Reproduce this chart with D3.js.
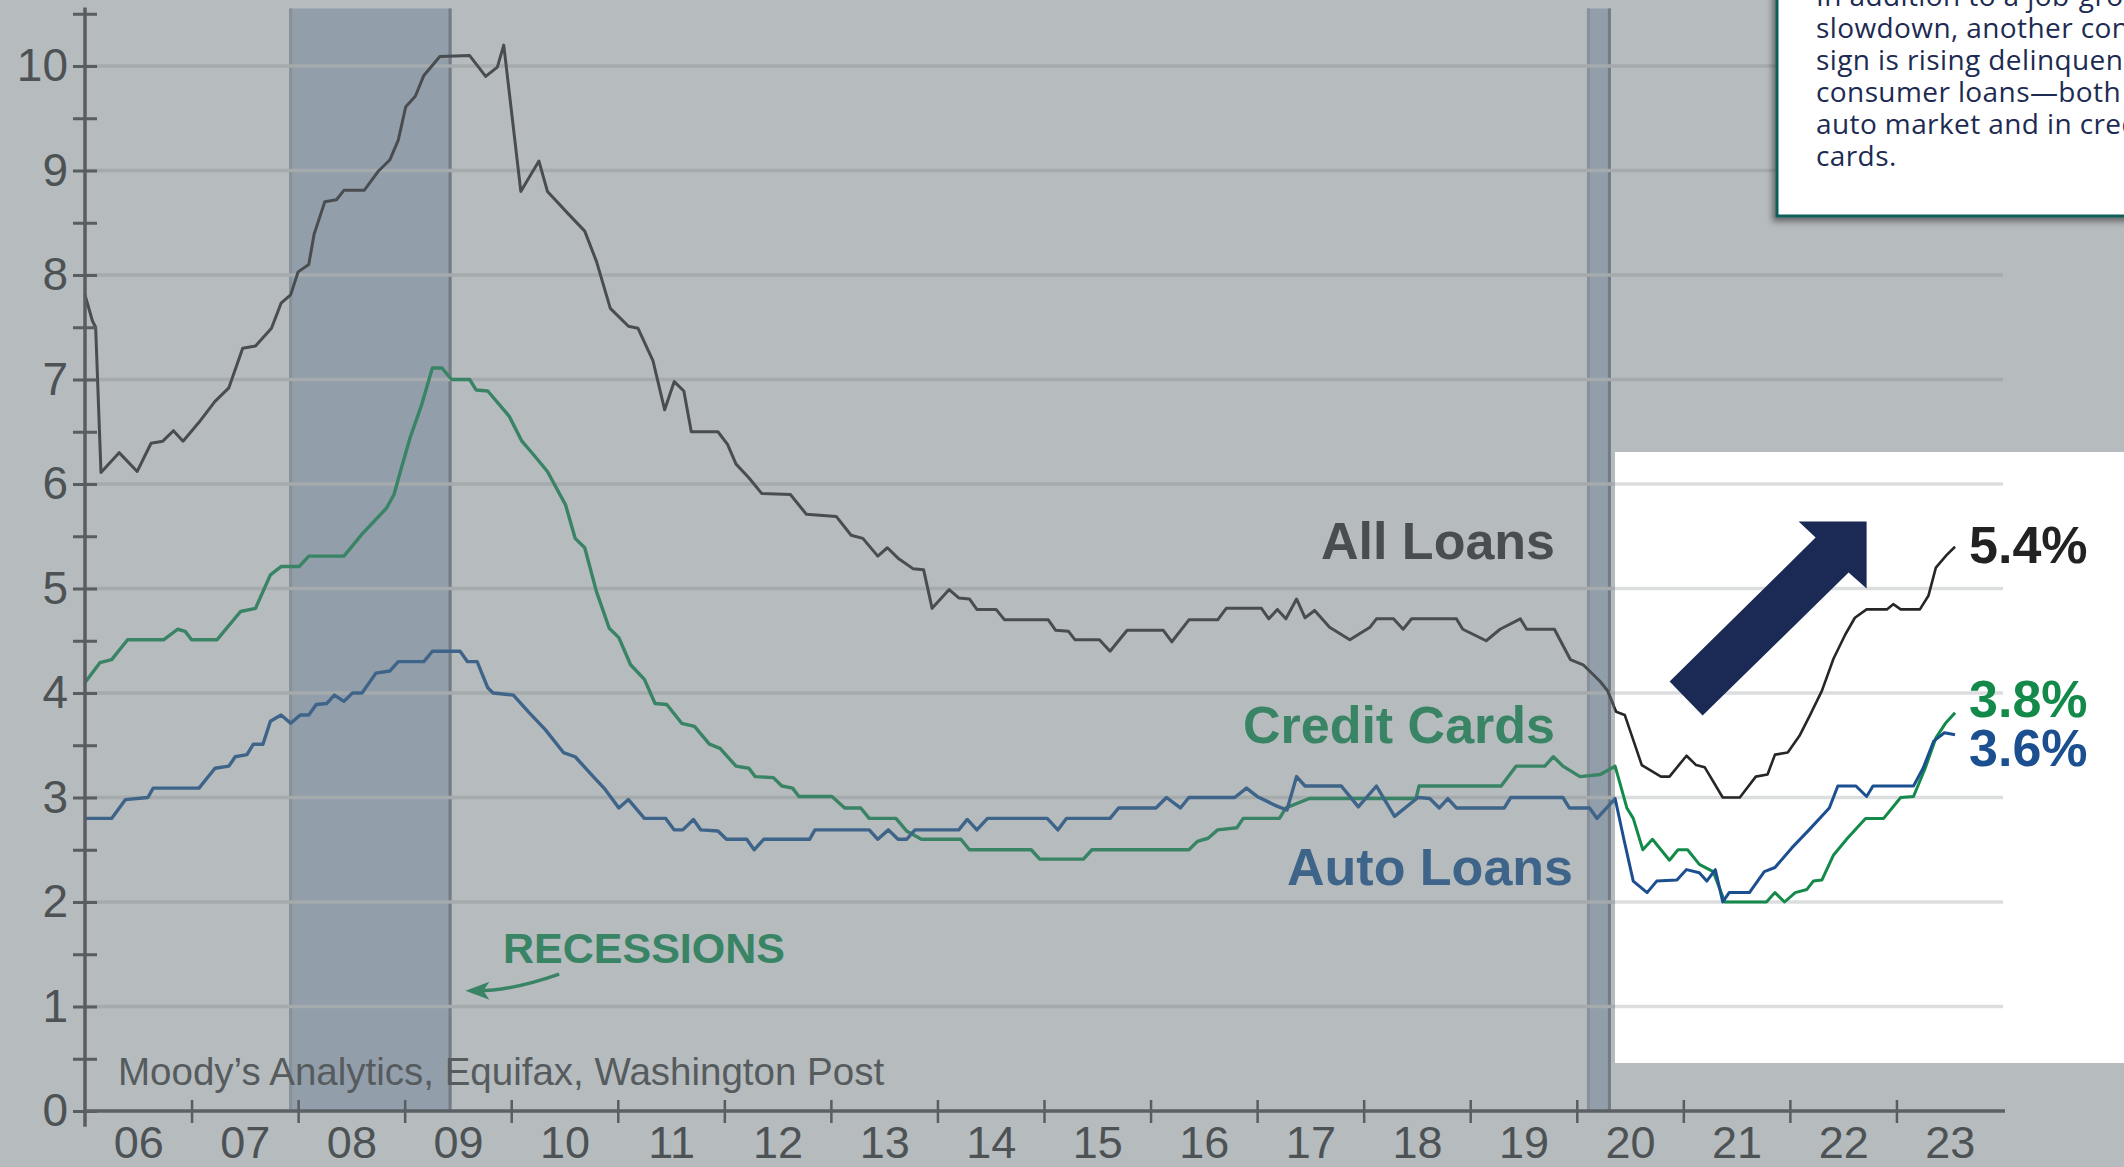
<!DOCTYPE html>
<html>
<head>
<meta charset="utf-8">
<script src="https://cdn.jsdelivr.net/npm/d3@7"></script>
<style>
  html, body { margin: 0; padding: 0; background: #b6bbbe; overflow: hidden; }
  svg { display: block; }
</style>
</head>
<body>
<div id="chart"></div>
<script>
// Delinquency rates (%); dates are decimal years
var allLoansDates = [2006.00, 2006.07, 2006.10, 2006.15, 2006.32, 2006.49, 2006.62, 2006.73, 2006.83, 2006.92,
  2007.07, 2007.22, 2007.35, 2007.48, 2007.60, 2007.75, 2007.84, 2007.93, 2008.00, 2008.10, 2008.15, 2008.25,
  2008.36, 2008.43, 2008.62, 2008.75, 2008.86, 2008.94, 2009.01, 2009.10, 2009.18, 2009.33, 2009.61, 2009.76,
  2009.87, 2009.93, 2010.09, 2010.26, 2010.34, 2010.54, 2010.69, 2010.80, 2010.93, 2011.10, 2011.19, 2011.33,
  2011.44, 2011.53, 2011.62, 2011.69, 2011.94, 2012.03, 2012.11, 2012.23, 2012.35, 2012.62, 2012.77, 2013.05,
  2013.19, 2013.30, 2013.44, 2013.53, 2013.63, 2013.77, 2013.87, 2013.95, 2014.11, 2014.20, 2014.30, 2014.37,
  2014.55, 2014.63, 2015.04, 2015.11, 2015.23, 2015.29, 2015.52, 2015.62, 2015.78, 2016.12, 2016.20, 2016.36,
  2016.63, 2016.71, 2017.04, 2017.11, 2017.19, 2017.27, 2017.37, 2017.45, 2017.54, 2017.68, 2017.87, 2018.06,
  2018.12, 2018.28, 2018.37, 2018.45, 2018.87, 2018.93, 2019.15, 2019.28, 2019.47, 2019.53, 2019.79, 2019.94,
  2020.06, 2020.22, 2020.29, 2020.37, 2020.45, 2020.61, 2020.79, 2020.87, 2021.03, 2021.12, 2021.20, 2021.37,
  2021.53, 2021.68, 2021.79, 2021.86, 2021.98, 2022.09, 2022.19, 2022.30, 2022.41, 2022.52, 2022.61, 2022.72,
  2022.91, 2022.97, 2023.04, 2023.22, 2023.30, 2023.37, 2023.47, 2023.55];
var allLoansValues = [7.81, 7.56, 7.50, 6.11, 6.30, 6.12, 6.39, 6.41, 6.51, 6.41,
  6.59, 6.79, 6.92, 7.30, 7.32, 7.49, 7.73, 7.81, 8.03, 8.10, 8.39, 8.70,
  8.72, 8.81, 8.81, 8.99, 9.10, 9.29, 9.61, 9.71, 9.91, 10.09, 10.10, 9.90,
  9.99, 10.20, 8.80, 9.09, 8.80, 8.58, 8.42, 8.13, 7.68, 7.51, 7.49, 7.18,
  6.71, 6.98, 6.89, 6.50, 6.50, 6.38, 6.19, 6.06, 5.91, 5.90, 5.71, 5.69,
  5.51, 5.48, 5.31, 5.39, 5.29, 5.19, 5.18, 4.81, 4.99, 4.91, 4.90, 4.80,
  4.80, 4.70, 4.70, 4.60, 4.59, 4.51, 4.51, 4.40, 4.60, 4.60, 4.49, 4.70,
  4.70, 4.81, 4.81, 4.71, 4.80, 4.71, 4.90, 4.72, 4.79, 4.63, 4.51, 4.63,
  4.71, 4.71, 4.61, 4.71, 4.71, 4.61, 4.50, 4.61, 4.71, 4.61, 4.61, 4.32,
  4.27, 4.11, 4.02, 3.82, 3.79, 3.31, 3.20, 3.20, 3.40, 3.31, 3.29, 3.00,
  3.00, 3.20, 3.22, 3.41, 3.43, 3.59, 3.79, 4.02, 4.33, 4.56, 4.72, 4.80,
  4.80, 4.85, 4.80, 4.80, 4.93, 5.20, 5.32, 5.40];

var creditDates = [2006.00, 2006.14, 2006.25, 2006.40, 2006.74, 2006.87, 2006.94, 2007.00, 2007.24, 2007.46,
  2007.60, 2007.74, 2007.84, 2008.01, 2008.10, 2008.43, 2008.60, 2008.83, 2008.90, 2008.96, 2009.05, 2009.16,
  2009.26, 2009.35, 2009.44, 2009.61, 2009.67, 2009.78, 2009.98, 2010.10, 2010.21, 2010.34, 2010.51, 2010.60,
  2010.69, 2010.80, 2010.92, 2011.01, 2011.12, 2011.25, 2011.35, 2011.46, 2011.60, 2011.72, 2011.86, 2011.96,
  2012.11, 2012.23, 2012.29, 2012.46, 2012.54, 2012.64, 2012.70, 2013.01, 2013.13, 2013.28, 2013.36, 2013.61,
  2013.71, 2013.85, 2014.22, 2014.30, 2014.88, 2014.96, 2015.37, 2015.45, 2016.36, 2016.44, 2016.54, 2016.63,
  2016.81, 2016.87, 2017.21, 2017.27, 2017.49, 2018.49, 2018.52, 2019.29, 2019.43, 2019.70, 2019.78, 2019.87,
  2020.03, 2020.22, 2020.36, 2020.47, 2020.53, 2020.62, 2020.71, 2020.87, 2020.95, 2021.04, 2021.15, 2021.28,
  2021.39, 2021.78, 2021.86, 2021.95, 2022.05, 2022.16, 2022.22, 2022.30, 2022.41, 2022.54, 2022.71, 2022.88,
  2023.04, 2023.16, 2023.27, 2023.37, 2023.46, 2023.55];
var creditValues = [4.10, 4.29, 4.32, 4.51, 4.51, 4.61, 4.59, 4.51, 4.51, 4.78,
  4.81, 5.13, 5.21, 5.21, 5.31, 5.31, 5.52, 5.77, 5.90, 6.12, 6.44, 6.76,
  7.11, 7.11, 7.00, 7.00, 6.90, 6.89, 6.65, 6.41, 6.28, 6.12, 5.80, 5.48,
  5.39, 4.97, 4.62, 4.53, 4.27, 4.13, 3.90, 3.89, 3.71, 3.68, 3.51, 3.47,
  3.30, 3.28, 3.20, 3.19, 3.11, 3.09, 3.01, 3.01, 2.90, 2.90, 2.80, 2.80,
  2.68, 2.60, 2.60, 2.50, 2.50, 2.41, 2.41, 2.50, 2.50, 2.58, 2.61, 2.69,
  2.71, 2.80, 2.80, 2.90, 2.99, 2.99, 3.11, 3.11, 3.30, 3.30, 3.39, 3.30,
  3.20, 3.22, 3.30, 2.90, 2.80, 2.50, 2.60, 2.40, 2.50, 2.50, 2.36, 2.29,
  2.00, 2.00, 2.09, 2.00, 2.09, 2.12, 2.20, 2.21, 2.45, 2.61, 2.80, 2.80,
  3.00, 3.01, 3.28, 3.57, 3.71, 3.81];

var autoDates = [2006.00, 2006.25, 2006.38, 2006.59, 2006.64, 2007.07, 2007.22, 2007.35, 2007.41, 2007.52,
  2007.58, 2007.67, 2007.74, 2007.84, 2007.93, 2008.02, 2008.10, 2008.17, 2008.27, 2008.34, 2008.43, 2008.51,
  2008.60, 2008.73, 2008.86, 2008.94, 2009.18, 2009.26, 2009.52, 2009.59, 2009.68, 2009.78, 2009.83, 2010.02,
  2010.17, 2010.32, 2010.49, 2010.60, 2010.77, 2010.88, 2011.01, 2011.10, 2011.25, 2011.45, 2011.53, 2011.61,
  2011.71, 2011.78, 2011.94, 2012.02, 2012.21, 2012.28, 2012.37, 2012.80, 2012.85, 2013.36, 2013.44, 2013.54,
  2013.63, 2013.71, 2013.79, 2014.20, 2014.28, 2014.37, 2014.47, 2015.03, 2015.13, 2015.21, 2015.62, 2015.70,
  2016.05, 2016.15, 2016.28, 2016.36, 2016.79, 2016.90, 2017.00, 2017.18, 2017.28, 2017.37, 2017.45, 2017.79,
  2017.95, 2018.12, 2018.29, 2018.51, 2018.62, 2018.71, 2018.79, 2018.87, 2019.32, 2019.38, 2019.87, 2019.93,
  2020.12, 2020.19, 2020.36, 2020.44, 2020.53, 2020.66, 2020.75, 2020.94, 2021.03, 2021.15, 2021.22, 2021.30,
  2021.37, 2021.43, 2021.62, 2021.76, 2021.86, 2022.02, 2022.18, 2022.37, 2022.45, 2022.62, 2022.72, 2022.78,
  2023.16, 2023.25, 2023.35, 2023.45, 2023.55];
var autoValues = [2.80, 2.80, 2.98, 3.00, 3.09, 3.09, 3.28, 3.30, 3.39, 3.41,
  3.51, 3.51, 3.73, 3.79, 3.71, 3.79, 3.79, 3.89, 3.90, 3.98, 3.92, 4.00,
  4.00, 4.19, 4.21, 4.30, 4.30, 4.40, 4.40, 4.30, 4.30, 4.05, 4.00, 3.98,
  3.81, 3.65, 3.43, 3.39, 3.20, 3.08, 2.90, 2.98, 2.80, 2.80, 2.69, 2.69,
  2.79, 2.69, 2.68, 2.60, 2.60, 2.50, 2.60, 2.60, 2.69, 2.69, 2.60, 2.69,
  2.60, 2.60, 2.69, 2.69, 2.79, 2.69, 2.80, 2.80, 2.69, 2.80, 2.80, 2.90,
  2.90, 3.00, 2.90, 3.00, 3.00, 3.09, 3.01, 2.92, 2.88, 3.20, 3.11, 3.11,
  2.91, 3.11, 2.82, 3.00, 2.99, 2.90, 2.99, 2.90, 2.90, 3.00, 3.00, 2.90,
  2.90, 2.80, 2.99, 2.61, 2.20, 2.09, 2.20, 2.21, 2.31, 2.28, 2.20, 2.31,
  2.00, 2.09, 2.09, 2.29, 2.33, 2.52, 2.69, 2.90, 3.11, 3.11, 3.01, 3.11,
  3.11, 3.28, 3.54, 3.62, 3.60];

var recessionStarts = [2007.92, 2020.10];
var recessionEnds = [2009.44, 2020.32];
var yearTicks = d3.range(2007, 2024);
var yearLabels = ["06", "07", "08", "09", "10", "11", "12", "13", "14", "15", "16", "17", "18", "19", "20", "21", "22", "23"];
var endLabels = ["5.4%", "3.8%", "3.6%"];
var noteLines = ["In addition to a job-growth", "slowdown, another concerning", "sign is rising delinquencies in",
  "consumer loans\u2014both in the", "auto market and in credit", "cards."];

var width = 2124;
var height = 1167;
var box = { x: 1615, y: 452, w: 520, h: 611 };   // highlighted white area

var svg = d3.select("#chart")
    .append("svg")
    .attr("width", width)
    .attr("height", height);

var x = d3.scaleLinear().domain([2006, 2024]).range([85, 2003]);
var y = d3.scaleLinear().domain([0, 10]).range([1111, 66]);

var defs = svg.append("defs");
defs.append("clipPath").attr("id", "boxClip")
  .append("rect").attr("x", box.x).attr("y", box.y).attr("width", box.w).attr("height", box.h);
var shadow = defs.append("filter").attr("id", "shadow").attr("x", "-20%").attr("y", "-20%").attr("width", "140%").attr("height", "140%");
shadow.append("feDropShadow").attr("dx", -3).attr("dy", 4).attr("stdDeviation", 3)
  .attr("flood-color", "#000").attr("flood-opacity", 0.45);

// background
svg.append("rect").attr("width", width).attr("height", height).attr("fill", "#b6bbbe");

// recession bands
svg.selectAll(".band")
  .data(recessionStarts)
  .enter().append("rect")
  .attr("x", function(d) { return x(d); })
  .attr("y", y(10.55))
  .attr("width", function(d, i) { return x(recessionEnds[i]) - x(d); })
  .attr("height", y(0) - y(10.55))
  .attr("fill", "#939eab");
svg.selectAll(".bandEdgeL")
  .data(recessionStarts)
  .enter().append("line")
  .attr("x1", function(d) { return x(d) + 1; }).attr("x2", function(d) { return x(d) + 1; })
  .attr("y1", y(10.55)).attr("y2", y(0))
  .attr("stroke", "#889099").attr("stroke-width", 3);
svg.selectAll(".bandEdgeR")
  .data(recessionEnds)
  .enter().append("line")
  .attr("x1", function(d) { return x(d) - 1.5; }).attr("x2", function(d) { return x(d) - 1.5; })
  .attr("y1", y(10.55)).attr("y2", y(0))
  .attr("stroke", "#737b84").attr("stroke-width", 3);

var gridValues = d3.range(1, 11);

// gridlines (grey area)
svg.selectAll(".grid")
  .data(gridValues)
  .enter().append("line")
  .attr("x1", x(2006)).attr("x2", x(2024))
  .attr("y1", function(d) { return y(d); }).attr("y2", function(d) { return y(d); })
  .attr("stroke", "#a5aaad").attr("stroke-width", 3.5);

var line = d3.line()
  .x(function(d) { return x(d[0]); })
  .y(function(d) { return y(d[1]); });

var series = [
  { dates: allLoansDates, values: allLoansValues, muted: "#4a4d50", bright: "#262626", w: 3 },
  { dates: creditDates, values: creditValues, muted: "#3a8466", bright: "#138a4a", w: 3.4 },
  { dates: autoDates, values: autoValues, muted: "#3e6589", bright: "#1b4f8f", w: 3.4 }
];

// lines in the grey area
svg.selectAll(".mutedLine")
  .data(series)
  .enter().append("path")
  .attr("d", function(d) { return line(d3.zip(d.dates, d.values)); })
  .attr("fill", "none")
  .attr("stroke", function(d) { return d.muted; })
  .attr("stroke-width", function(d) { return d.w; })
  .attr("stroke-linejoin", "round");

// highlighted white area
svg.append("rect")
  .attr("x", box.x).attr("y", box.y).attr("width", box.w).attr("height", box.h)
  .attr("fill", "#ffffff");

var hi = svg.append("g").attr("clip-path", "url(#boxClip)");
hi.selectAll(".gridHi")
  .data(gridValues)
  .enter().append("line")
  .attr("x1", x(2006)).attr("x2", x(2024))
  .attr("y1", function(d) { return y(d); }).attr("y2", function(d) { return y(d); })
  .attr("stroke", "#dcdddf").attr("stroke-width", 3.5);
hi.selectAll(".brightLine")
  .data(series)
  .enter().append("path")
  .attr("d", function(d) { return line(d3.zip(d.dates, d.values)); })
  .attr("fill", "none")
  .attr("stroke", function(d) { return d.bright; })
  .attr("stroke-width", function(d) { return d.w - 0.4; })
  .attr("stroke-linejoin", "round");

// y axis
var yAxis = svg.append("g")
  .attr("transform", "translate(" + x(2006) + ",0)")
  .call(d3.axisLeft(y)
    .tickValues(d3.range(0, 10.51, 0.5))
    .tickSizeInner(12).tickSizeOuter(0).tickPadding(5)
    .tickFormat(function(d) { return Number.isInteger(d) ? d : ""; }));
yAxis.select(".domain").remove();
yAxis.selectAll(".tick line").attr("x1", -12).attr("x2", 12).attr("stroke", "#585d60").attr("stroke-width", 3);
yAxis.selectAll(".tick text")
  .attr("fill", "#4d5255")
  .style("font-family", "'Liberation Sans', Arial, sans-serif")
  .style("font-size", "46px");
yAxis.append("line")
  .attr("x1", 0).attr("x2", 0).attr("y1", y(10.56)).attr("y2", y(-0.15))
  .attr("stroke", "#585d60").attr("stroke-width", 3.5);

// x axis
var xAxis = svg.append("g")
  .attr("transform", "translate(0," + y(0) + ")")
  .call(d3.axisBottom(x).tickValues(yearTicks).tickSizeOuter(0).tickFormat(""));
xAxis.select(".domain").remove();
xAxis.selectAll(".tick line").attr("y1", -11).attr("y2", 12).attr("stroke", "#585d60").attr("stroke-width", 2.5);
xAxis.append("line")
  .attr("x1", x(2006)).attr("x2", x(2024) + 2).attr("y1", 0).attr("y2", 0)
  .attr("stroke", "#5b6064").attr("stroke-width", 3.5);

var xLabels = svg.append("g")
  .attr("transform", "translate(0," + y(0) + ")")
  .call(d3.axisBottom(x)
    .tickValues(yearLabels.map(function(d, i) { return 2006.5 + i; }))
    .tickSize(0).tickPadding(15)
    .tickFormat(function(d, i) { return yearLabels[i]; }));
xLabels.select(".domain").remove();
xLabels.selectAll("text")
  .attr("fill", "#4d5255")
  .style("font-family", "'Liberation Sans', Arial, sans-serif")
  .style("font-size", "45px");

// series labels
var labelFont = "'Liberation Sans', Arial, sans-serif";
function addText(tx, ty, txt, color, size, weight, anchor) {
  return svg.append("text")
    .attr("x", tx).attr("y", ty)
    .attr("fill", color)
    .attr("text-anchor", anchor || "start")
    .style("font-family", labelFont)
    .style("font-size", size + "px")
    .style("font-weight", weight)
    .text(txt);
}
addText(1555, 559, "All Loans", "#4a4d50", 52, "bold", "end");
addText(1555, 743, "Credit Cards", "#3a8466", 52, "bold", "end");
addText(1573, 885, "Auto Loans", "#3e6589", 52, "bold", "end");
addText(503, 963, "RECESSIONS", "#3a8466", 43, "bold");
addText(118, 1085, "Moody\u2019s Analytics, Equifax, Washington Post", "#565b5e", 38.5, "normal");

// arrow pointing to the recessions
svg.append("path")
  .attr("d", "M" + x(2010.45) + "," + y(1.31) + " Q" + x(2010.0) + "," + y(1.15) + " " + (x(2009.57) + 12) + "," + y(1.15))
  .attr("fill", "none").attr("stroke", "#3a8466").attr("stroke-width", 3.5);
var tip = [x(2009.57), y(1.15)];
svg.append("path")
  .attr("d", "M" + tip[0] + "," + tip[1] + " L" + (tip[0] + 24) + "," + (tip[1] - 9) +
    " L" + (tip[0] + 18) + "," + tip[1] + " L" + (tip[0] + 24) + "," + (tip[1] + 9) + " Z")
  .attr("fill", "#3a8466");

// end labels
var lastVals = [allLoansValues[allLoansValues.length - 1], creditValues[creditValues.length - 1], autoValues[autoValues.length - 1]];
var endColors = ["#222222", "#138a4a", "#1b4f8f"];
var endOffsets = [16, 4, 31];
svg.selectAll(".endLabel")
  .data(endLabels)
  .enter().append("text")
  .attr("x", x(2023.55) + 14)
  .attr("y", function(d, i) { return y(lastVals[i]) + endOffsets[i]; })
  .attr("fill", function(d, i) { return endColors[i]; })
  .style("font-family", labelFont)
  .style("font-size", "52px")
  .style("font-weight", "bold")
  .text(function(d) { return d; });

// big navy arrow
var aTip = [x(2022.72), y(5.64)];
var arrowShape = [[-197, 160], [-51, 16], [-68, 0], [0, 0], [0, 67], [-18, 51], [-164, 194]];
svg.append("polygon")
  .attr("points", arrowShape.map(function(p) { return (aTip[0] + p[0]) + "," + (aTip[1] + p[1]); }).join(" "))
  .attr("fill", "#1a2a55");

// note box (top right)
svg.append("rect")
  .attr("x", 1777).attr("y", -20).attr("width", 400).attr("height", 236)
  .attr("fill", "#ffffff").attr("stroke", "#0f5e5a").attr("stroke-width", 3)
  .attr("filter", "url(#shadow)");
svg.selectAll(".note")
  .data(noteLines)
  .enter().append("text")
  .attr("x", 1816)
  .attr("y", function(d, i) { return 6 + i * 32; })
  .attr("fill", "#1d2b52")
  .style("font-family", "'Open Sans', sans-serif")
  .style("font-size", "28px")
  .style("letter-spacing", "0.4px")
  .text(function(d) { return d; });
</script>
</body>
</html>
